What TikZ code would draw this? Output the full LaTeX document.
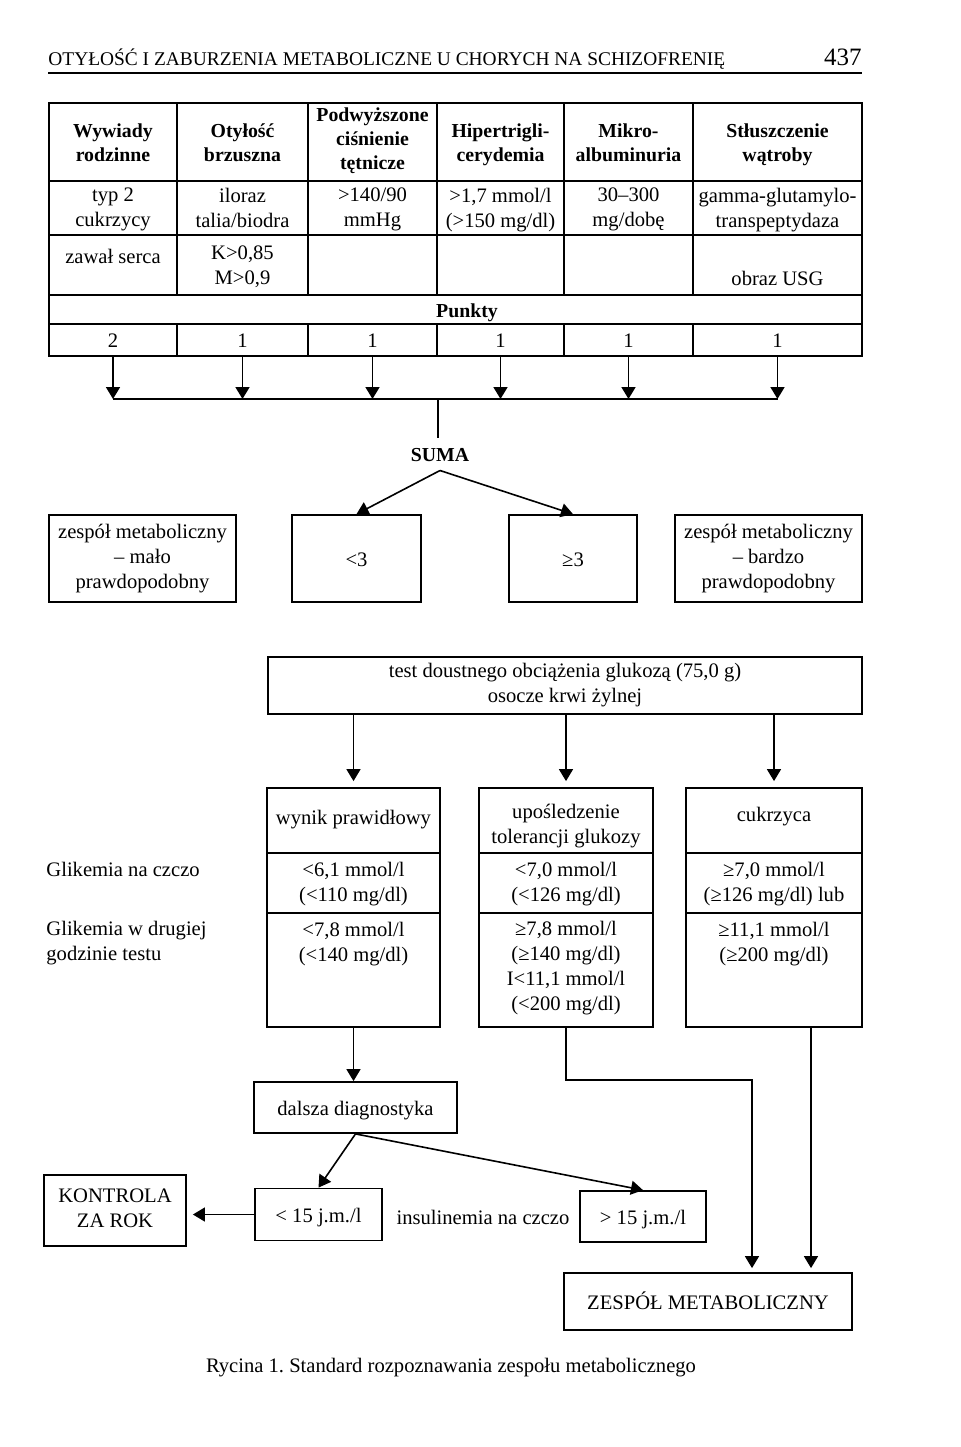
\documentclass[tikz,border=0pt]{standalone}
\usepackage{fontspec}
\setmainfont{Liberation Serif}
\usetikzlibrary{arrows.meta}
\frenchspacing
\newcommand{\normfs}{\fontsize{10.3pt}{12.5pt}\selectfont}
\newcommand{\boldfs}{\fontsize{9.9pt}{12pt}\selectfont\bfseries}
\newcommand{\titlefs}{\fontsize{9.7pt}{12pt}\selectfont}
\newcommand{\cellstrut}{\rule[-2.5pt]{0pt}{12.5pt}}
\tikzset{bx/.append style={draw, line width=0.9pt, inner sep=0pt, align=center}}
\tikzset{hd/.append style={font=\boldfs, align=center}}
\tikzset{tb/.append style={line width=1pt}}
\tikzset{ln/.append style={line width=0.8pt}}
\tikzset{ar/.append style={-{Triangle[length=6pt,width=7pt]}, line width=0.8pt}}

\begin{document}
\begin{tikzpicture}[x=0.5pt,y=-0.5pt, every node/.style={font=\normfs, align=center, inner sep=0pt,
                    execute at begin node=\cellstrut, execute at end node=\cellstrut}]
                \useasboundingbox (0,0) rectangle (960,1447);
                % header
                \node[anchor=base west, font=\titlefs] (title) at (48,65) {OTYŁOŚĆ I ZABURZENIA METABOLICZNE U CHORYCH NA SCHIZOFRENIĘ};
                \node[anchor=base east, font=\fontsize{12.5pt}{14pt}\selectfont] (page) at (862,65) {437};
                \draw[ln] (48,73) -- (862,73);
                % table
                \draw[tb] (49,103) rectangle (862,356);
                \foreach \y in {181,235,295,324} \draw[tb] (49,\y) -- (862,\y);
                \foreach \x in {177,308,437,564,693} {\draw[tb] (\x,103) -- (\x,295); \draw[tb] (\x,324) -- (\x,356);}
                \node[hd] (h1) at (113,145) {Wywiady\\rodzinne};
                \node[hd] (h2) at (242.5,145) {Otyłość\\brzuszna};
                \node[hd] (h3) at (372.5,141) {Podwyższone\\ciśnienie\\tętnicze};
                \node[hd] (h4) at (500.5,145) {Hipertrigli-\\cerydemia};
                \node[hd] (h5) at (628.5,145) {Mikro-\\albuminuria};
                \node[hd] (h6) at (777.5,145) {Stłuszczenie\\wątroby};
                \node (c1) at (113,210) {typ 2\\cukrzycy};
                \node (c2) at (242.5,210) {iloraz\\talia/biodra};
                \node (c3) at (372.5,210) {>140/90\\mmHg};
                \node (c4) at (500.5,210) {>1,7 mmol/l\\(>150 mg/dl)};
                \node (c5) at (628.5,210) {30–300\\mg/dobę};
                \node (c6) at (777.5,210) {gamma-glutamylo-\\transpeptydaza};
                \node (d1) at (113,256) {zawał serca};
                \node (d2) at (242.5,268) {K>0,85\\M>0,9};
                \node (d6) at (777.5,278) {obraz USG};
                \node[hd] (pk) at (467,310) {Punkty};
                \node[minimum height=16pt] (p1) at (113,340) {2};
                \node[minimum height=16pt] (p2) at (242.5,340) {1};
                \node[minimum height=16pt] (p3) at (372.5,340) {1};
                \node[minimum height=16pt] (p4) at (500.5,340) {1};
                \node[minimum height=16pt] (p5) at (628.5,340) {1};
                \node[minimum height=16pt] (p6) at (777.5,340) {1};
                % sum
                \coordinate (bus) at (438,399);
                \foreach \p in {p1,p2,p3,p4,p5,p6} \draw[ar] (\p.south) -- (\p.south |- bus);
                \draw[ln] (p1.south |- bus) -- (p6.south |- bus);
                \node[hd, inner sep=1pt, outer sep=1pt] (suma) at (440,454) {SUMA};
                \draw[ln] (bus) -- (bus |- suma.north);
                \node[bx, minimum width=93.5pt, minimum height=43.5pt] (mlo) at (142.5,558.5) {zespół metaboliczny\\– mało\\prawdopodobny};
                \node[bx, minimum width=64.5pt, minimum height=43.5pt] (lt3) at (356.5,558.5) {<3};
                \node[bx, minimum width=64pt, minimum height=43.5pt] (ge3) at (573,558.5) {≥3};
                \node[bx, minimum width=93.5pt, minimum height=43.5pt] (bdz) at (768.5,558.5) {zespół metaboliczny\\– bardzo\\prawdopodobny};
                \draw[ar] (suma.south) -- (lt3.north);
                \draw[ar] (suma.south) -- (ge3.north);
                % glucose test
                \node[bx, minimum width=297pt, minimum height=28.5pt] (ogtt) at (565,685.5) {test doustnego obciążenia glukozą (75,0 g)\\osocze krwi żylnej};
                \node[bx, minimum width=86.5pt, minimum height=119.5pt] (wyn) at (353.5,907.5) {};
                \node[bx, minimum width=87pt, minimum height=119.5pt] (upo) at (566,907.5) {};
                \node[bx, minimum width=88pt, minimum height=119.5pt] (cuk) at (774,907.5) {};
                \coordinate (r1) at (0,853);
                \coordinate (r2) at (0,913);
                \foreach \b in {wyn,upo,cuk} {
                    \draw[ln] (\b.west |- r1) -- (\b.east |- r1);
                    \draw[ln] (\b.west |- r2) -- (\b.east |- r2);
                    \draw[ar, shorten >=3pt] (ogtt.south -| \b.north) -- (\b.north);
                }
                \node (w1) at (353.5,817) {wynik prawidłowy};
                \node (w2) at (353.5,884) {<6,1 mmol/l\\(<110 mg/dl)};
                \node (w3) at (353.5,944) {<7,8 mmol/l\\(<140 mg/dl)};
                \node (u1) at (566,826) {upośledzenie\\tolerancji glukozy};
                \node (u2) at (566,884) {<7,0 mmol/l\\(<126 mg/dl)};
                \node (u3) at (566,968) {≥7,8 mmol/l\\(≥140 mg/dl)\\I<11,1 mmol/l\\(<200 mg/dl)};
                \node (k1) at (774,814) {cukrzyca};
                \node (k2) at (774,884) {≥7,0 mmol/l\\(≥126 mg/dl) lub};
                \node (k3) at (774,944) {≥11,1 mmol/l\\(≥200 mg/dl)};
                \node[anchor=west] (gl1) at (46,869) {Glikemia na czczo};
                \node[anchor=west, align=left] (gl2) at (46,943) {Glikemia w drugiej\\godzinie testu};
                % insulin
                \node[bx, minimum width=101.5pt, minimum height=25.5pt] (dal) at (355.5,1107.5) {dalsza diagnostyka};
                \node[bx, minimum width=63.5pt, minimum height=26pt] (lt15) at (318.5,1214.5) {< 15 j.m./l};
                \node[bx, minimum width=63pt, minimum height=25.5pt] (gt15) at (643,1216.5) {> 15 j.m./l};
                \node (ins) at (483,1217) {insulinemia na czczo};
                \node[bx, minimum width=71pt, minimum height=35.5pt] (kon) at (115,1210.5) {KONTROLA\\ZA ROK};
                \node[bx, minimum width=144pt, minimum height=28.5pt] (zes) at (708,1301.5) {ZESPÓŁ METABOLICZNY};
                \draw[ar] (wyn.south) -- (wyn.south |- dal.north);
                \draw[ar] (dal.south) -- (lt15.north);
                \draw[ar] (dal.south) -- (gt15.north);
                \draw[ar, shorten >=3pt] (lt15.west) -- (lt15.west -| kon.east);
                \coordinate (jn) at (752,1080);
                \draw[ar, shorten >=2pt] (upo.south) |- (jn) -- (jn |- zes.north);
                \draw[ar, shorten >=2pt] ([xshift=18.5pt]cuk.south) -- ([xshift=18.5pt]cuk.south |- zes.north);
                \node (cap) at (451,1365) {Rycina 1. Standard rozpoznawania zespołu metabolicznego};
            \end{tikzpicture}
\end{document}
